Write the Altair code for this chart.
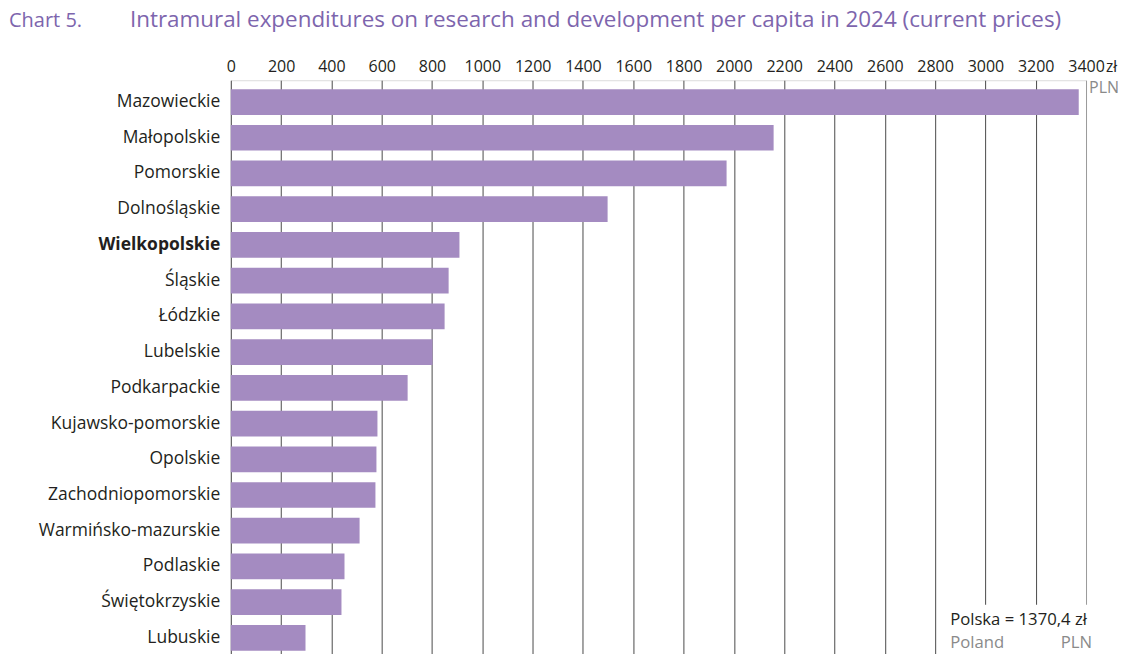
import altair as alt
import pandas as pd

regions = ["Mazowieckie", "Małopolskie", "Pomorskie", "Dolnośląskie", "Wielkopolskie",
           "Śląskie", "Łódzkie", "Lubelskie", "Podkarpackie", "Kujawsko-pomorskie",
           "Opolskie", "Zachodniopomorskie", "Warmińsko-mazurskie", "Podlaskie",
           "Świętokrzyskie", "Lubuskie"]
values = [3371, 2158, 1971, 1498, 909, 866, 850, 802, 703, 583, 579, 575, 512, 452, 440, 297]
tick_values = list(range(0, 3401, 200))

title_prefix = "Chart 5."
title_text = "Intramural expenditures on research and development per capita in 2024 (current prices)"
note_main = "Polska = 1370,4 zł"
note_left = "Poland"
note_right = "PLN"

FONT = "Open Sans"
PURPLE_T = "#7d65ad"
BAR = "#a48bc1"
DARK = "#231f20"
GRAY = "#8a8a8a"

W, H = 856, 580

df = pd.DataFrame({"region": regions, "value": values})

x_enc = alt.X("value:Q",
              scale=alt.Scale(domain=[0, 3400], nice=False, zero=True),
              axis=alt.Axis(orient="top", values=tick_values, format="d", title=None, domain=False,
                            ticks=False, labelPadding=6, labelFontSize=16, labelFont=FONT,
                            labelColor=DARK, grid=True,
                            gridColor=alt.condition("datum.value == 3400", alt.value("#9a9a9a"), alt.value("#4a4a4a")),
                            gridWidth=1, labelFlush=False))
y_enc = alt.Y("region:N", sort=regions,
              scale=alt.Scale(paddingInner=0.28, paddingOuter=0.25),
              axis=alt.Axis(title=None, domain=False, ticks=False, labelPadding=11, labelLimit=400,
                            labelFontSize=17.5, labelFont=FONT, labelColor=DARK,
                            labelFontWeight=alt.condition("datum.value == 'Wielkopolskie'", alt.value("bold"), alt.value("normal"))))

bars = alt.Chart(df).mark_bar(color=BAR).encode(x=x_enc, y=y_enc)


def txt(s, x, y, size=16, color=DARK, align="left", baseline="alphabetic"):
    return alt.Chart(pd.DataFrame({"t": [s]})).mark_text(
        align=align, baseline=baseline, font=FONT, fontSize=size, color=color
    ).encode(text="t:N", x=alt.value(x), y=alt.value(y))


t1 = txt(title_prefix, 9 - 231, 27 - 80, size=20, color=PURPLE_T)
t2 = txt(title_text, 130 - 231, 27 - 80, size=22.45, color=PURPLE_T)
zl = txt("zł", W + 20, -8, size=15.5, color=DARK)
pln = txt("PLN", W + 3, 8, size=16, color=GRAY, baseline="middle")

box = alt.Chart(pd.DataFrame({"a": [0]})).mark_rect(color="white").encode(
    x=alt.value(940 - 231), x2=alt.value(1105 - 231), y=alt.value(605 - 80), y2=alt.value(H + 10))
n1 = txt(note_main, 951 - 231, 625 - 80, size=16.7, color=DARK)
n2 = txt(note_left, 951 - 231, 648 - 80, size=16.7, color=GRAY)
n3 = txt(note_right, 1093 - 231, 648 - 80, size=16.7, color=GRAY, align="right")

chart = alt.layer(bars, box, t1, t2, zl, pln, n1, n2, n3).properties(
    width=W, height=H,
    autosize=alt.AutoSizeParams(type="none"),
    padding={"left": 223, "top": 72, "right": 32, "bottom": 0},
).configure_view(stroke=None).configure(background="white")

chart.save("out.html", embed_options={"renderer": "svg", "actions": False})
